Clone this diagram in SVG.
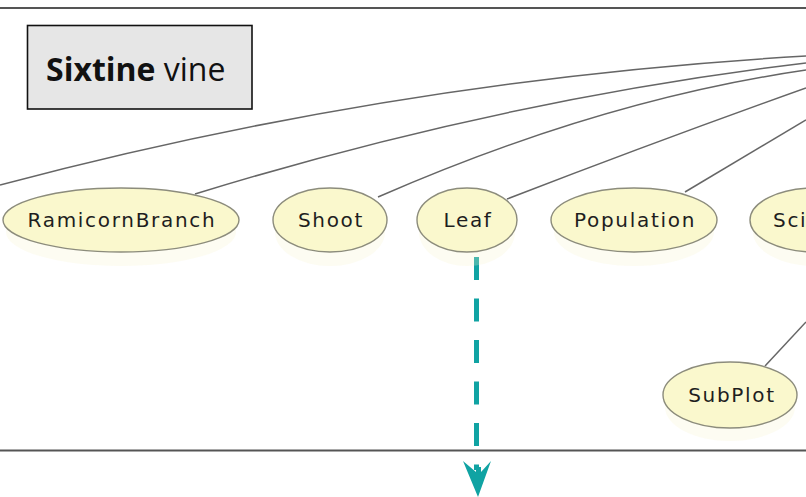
<svg xmlns="http://www.w3.org/2000/svg" width="806" height="497" viewBox="0 0 806 497">
  <defs>
    <style>
      .frame { stroke: #555; stroke-width: 1.8; fill: none; }
      .edge { stroke: #666; stroke-width: 1.5; fill: none; }
      .node ellipse.body { fill: #faf8cd; stroke: #8c8c7c; stroke-width: 1.4; }
      .node ellipse.shadow { fill: #f6f2cc; opacity: 0.25; }
      .node text { font-family: "DejaVu Sans", Verdana, sans-serif; font-size: 20px; letter-spacing: 1.7px; fill: #1e1e1e; text-anchor: middle; }
      .title rect { fill: #e6e6e6; stroke: #111; stroke-width: 1.6; }
      .title text { font-family: "Open Sans", "Liberation Sans", sans-serif; font-size: 32px; fill: #111; }
      .flow { stroke: #10a3a3; stroke-width: 5; stroke-dasharray: 23 18.5; fill: none; }
    </style>
  </defs>
  <rect x="0" y="0" width="806" height="497" fill="#ffffff"/>

  <!-- frame lines -->
  <line class="frame" x1="0" y1="8" x2="806" y2="8"/>
  <line class="frame" x1="0" y1="450.5" x2="806" y2="450.5"/>

  <!-- title box -->
  <g id="title" class="title">
    <rect x="27.5" y="25.5" width="224.5" height="83.5"/>
    <text x="46" y="81"><tspan font-weight="bold">Sixtine</tspan> vine</text>
  </g>

  <!-- connectors -->
  <g id="connectors">
    <path class="edge" d="M0,185 Q397,79.5 806,56"/>
    <path class="edge" d="M195,194 Q500,100 806,63"/>
    <path class="edge" d="M378,197 Q600,100 806,70"/>
    <path class="edge" d="M507,199 Q660,140 806,88"/>
    <path class="edge" d="M685,192 L806,120"/>
    <path class="edge" d="M765,366 L806,322"/>
    <path class="flow" d="M476.5,257 L476.5,470"/>
    <polygon points="463,461 476,472 476,467 481,467 481,472 491,461 478,497" fill="#10a3a3"/>
  </g>

  <!-- nodes -->
  <g id="node-ramicornbranch" class="node">
    <ellipse class="shadow" cx="121" cy="232" rx="115" ry="34"/>
    <ellipse class="body" cx="121" cy="220" rx="118" ry="32"/>
    <text x="122" y="227">RamicornBranch</text>
  </g>
  <g id="node-shoot" class="node">
    <ellipse class="shadow" cx="330" cy="232" rx="55" ry="34"/>
    <ellipse class="body" cx="330" cy="220" rx="57" ry="32"/>
    <text x="331" y="227">Shoot</text>
  </g>
  <g id="node-leaf" class="node">
    <ellipse class="shadow" cx="467" cy="232" rx="48" ry="34"/>
    <ellipse class="body" cx="467" cy="220" rx="50" ry="32"/>
    <text x="468" y="227">Leaf</text>
  </g>
  <g id="node-population" class="node">
    <ellipse class="shadow" cx="634" cy="232" rx="80" ry="34"/>
    <ellipse class="body" cx="634" cy="220" rx="83" ry="32"/>
    <text x="635" y="227">Population</text>
  </g>
  <g id="node-sci" class="node">
    <ellipse class="shadow" cx="815" cy="232" rx="62" ry="34"/>
    <ellipse class="body" cx="815" cy="220" rx="65" ry="32"/>
    <text x="773" y="227" style="text-anchor:start">Sci</text>
  </g>
  <g id="node-subplot" class="node">
    <ellipse class="shadow" cx="730" cy="407" rx="65" ry="34"/>
    <ellipse class="body" cx="730" cy="395" rx="67" ry="33"/>
    <text x="732" y="402">SubPlot</text>
  </g>
</svg>
